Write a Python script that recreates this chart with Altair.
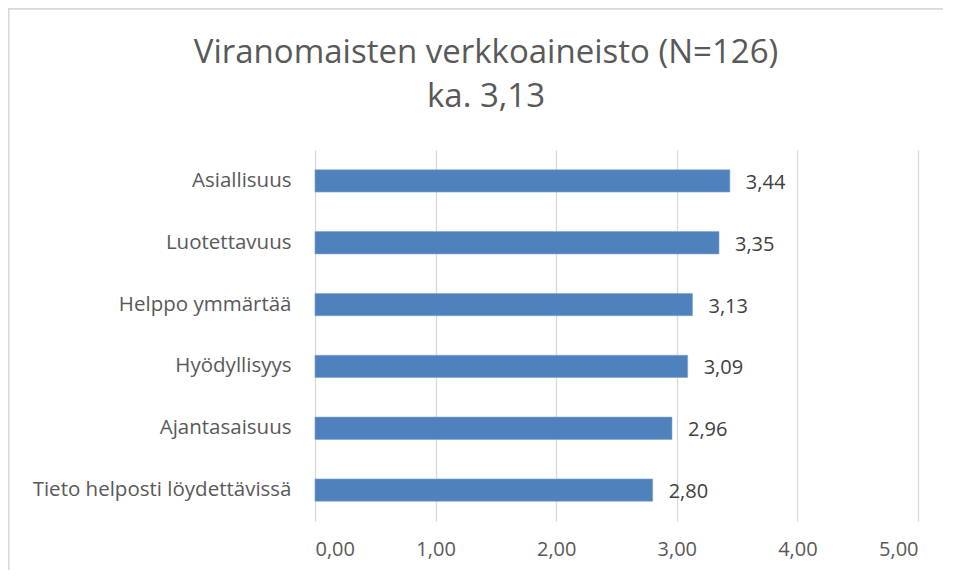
import altair as alt
import pandas as pd

categories = ["Asiallisuus", "Luotettavuus", "Helppo ymmärtää", "Hyödyllisyys",
              "Ajantasaisuus", "Tieto helposti löydettävissä"]
values = [3.44, 3.35, 3.13, 3.09, 2.96, 2.80]
x_ticks = [0, 1, 2, 3, 4, 5]
title_lines = ["Viranomaisten verkkoaineisto (N=126)", "ka. 3,13"]

df = pd.DataFrame({"cat": categories, "val": values})

W, H = 603, 371
PL, PT, PR, PB = 307, 142, 25, 49

font = "Open Sans"

y_enc = alt.Y("cat:N", sort=categories, title=None,
              scale=alt.Scale(paddingInner=0.64, paddingOuter=0.32),
              axis=alt.Axis(labelFontSize=20.5, labelColor="#595959", labelFont=font,
                            labelPadding=24, labelLimit=400, ticks=False, domain=False, grid=False))
x_enc = alt.X("val:Q", title=None,
              scale=alt.Scale(domain=[0, 5], nice=False),
              axis=alt.Axis(values=x_ticks, labelExpr="replace(format(datum.value, '.2f'), '.', ',')",
                            labelFontSize=20, labelColor="#595959", labelFont=font,
                            labelPadding=18, ticks=False, domain=False,
                            grid=True, gridColor="#d9d9d9", gridWidth=1.3))

bars = alt.Chart(df).mark_bar(color="#4F81BD", stroke="#7ea3d1", strokeWidth=0.6).encode(
    y=y_enc, x=x_enc)

labels = alt.Chart(df).transform_calculate(
    lbl="replace(format(datum.val, '.2f'), '.', ',')"
).mark_text(align="left", baseline="middle", dx=16, dy=2, fontSize=20, font=font,
            color="#404040").encode(
    y=alt.Y("cat:N", sort=categories), x="val:Q", text="lbl:N")

border_top = alt.Chart(df).mark_rule(stroke="#d9d9d9", strokeWidth=1.3, clip=False).encode(
    x=alt.value(-PL + 0.5), x2=alt.value(W + PR),
    y=alt.value(-PT + 0.5))
border_left = alt.Chart(df).mark_rule(stroke="#d9d9d9", strokeWidth=1.3, clip=False).encode(
    x=alt.value(-PL + 0.5),
    y=alt.value(-PT + 0.5), y2=alt.value(H + PB))

title_df = pd.DataFrame({"t": [title_lines[0]]})
title_df2 = pd.DataFrame({"t": [title_lines[1]]})
t1 = alt.Chart(title_df).mark_text(fontSize=33, font=font, color="#595959",
                                   align="center", baseline="alphabetic").encode(
    x=alt.value(171), y=alt.value(-87), text="t:N")
t2 = alt.Chart(title_df2).mark_text(fontSize=33, font=font, color="#595959",
                                    align="center", baseline="alphabetic").encode(
    x=alt.value(171), y=alt.value(-43), text="t:N")

chart = alt.layer(border_top, border_left, bars, labels, t1, t2).properties(
    width=W, height=H,
    autosize=alt.AutoSizeParams(type="none"),
    padding={"left": PL, "top": PT, "right": PR, "bottom": PB},
).configure_view(stroke=None)

chart.save("out.html", embed_options={"renderer": "svg", "actions": False})
